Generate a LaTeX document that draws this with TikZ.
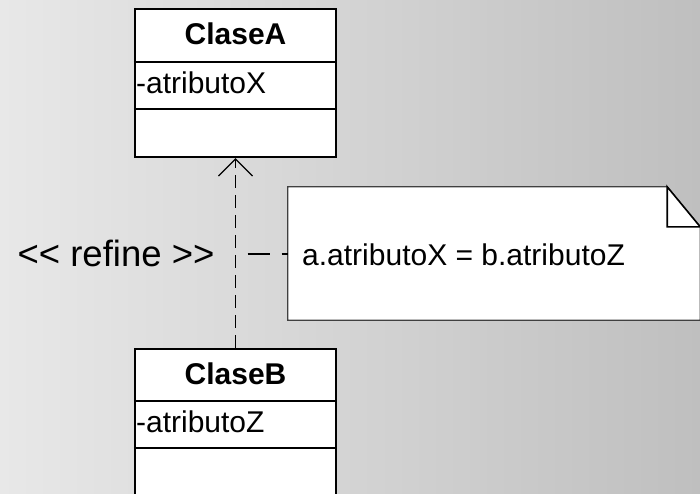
\documentclass[tikz,border=0pt]{standalone}
\usepackage{fontspec}
\newfontfamily\arial{Liberation Sans}
\usetikzlibrary{arrows.meta}
\definecolor{bgl}{HTML}{E8E8E8}
\definecolor{bgr}{HTML}{BFBFBF}
\definecolor{notedraw}{HTML}{404040}
\begin{document}
\begin{tikzpicture}[x=1pt,y=-1pt,
  classbox/.style={draw=black, line width=2.2pt, fill=white, minimum width=201pt, inner sep=0pt},
  sep/.style={line width=2pt},
  title/.style={font=\arial\bfseries\fontsize{30}{32}\selectfont, inner sep=0pt},
  attr/.style={font=\arial\fontsize{30}{32}\selectfont, inner sep=0pt, anchor=base west},
  notetxt/.style={font=\arial\fontsize{30}{32}\selectfont, inner sep=0pt, anchor=base west},
  lbl/.style={font=\arial\fontsize{36.5}{38}\selectfont, inner sep=0pt, anchor=base},
  conn/.style={line width=1.3pt, dash pattern=on 13pt off 7pt},
  hconn/.style={line width=2pt, dash pattern=on 22pt off 12pt, dash phase=22pt},
  notebox/.style={draw=notedraw, line width=1.2pt, fill=white},
  fold/.style={draw=black, line width=1.6pt, fill=white, line join=miter},
]
\useasboundingbox (0,0) rectangle (700,493);
\clip (0,0) rectangle (700,493);
\shade[left color=bgl, right color=bgr] (0,0) rectangle (700,493);

% ClaseA
\node[classbox, minimum height=148pt] (A) at (235.5,83) {};
\draw[sep] ([yshift=-54pt]A.north west) -- ([yshift=-54pt]A.north east);
\draw[sep] ([yshift=-101pt]A.north west) -- ([yshift=-101pt]A.north east);
\node[title] (At) at ([yshift=-26pt]A.north) {ClaseA};
\node[attr] (Aa) at ([xshift=2pt,yshift=-86pt]A.north west) {-atributoX};

% ClaseB
\node[classbox, minimum height=171pt] (B) at (235.5,434.5) {};
\draw[sep] ([yshift=-53pt]B.north west) -- ([yshift=-53pt]B.north east);
\draw[sep] ([yshift=-100pt]B.north west) -- ([yshift=-100pt]B.north east);
\node[title] (Bt) at ([yshift=-26pt]B.north) {ClaseB};
\node[attr] (Ba) at ([xshift=2pt,yshift=-85pt]B.north west) {-atributoZ};

% Note
\node[minimum width=412pt, minimum height=133pt, inner sep=0pt] (N) at (494,253.5) {};
\draw[notebox] (N.north west) -- ([xshift=-33pt]N.north east) -- ([yshift=-40pt]N.north east)
  -- (N.south east) -- (N.south west) -- cycle;
\draw[fold] ([xshift=-33pt]N.north east) -- ([xshift=-33pt,yshift=-40pt]N.north east)
  -- ([yshift=-40pt]N.north east) -- cycle;
\node[notetxt] (Nt) at (302,265) {a.atributoX = b.atributoZ};

% connectors
\draw[conn, -{Straight Barb[length=17pt, width=34pt, line width=1.3pt]}] (B.north) -- (A.south);
\coordinate (J) at (A.south |- N.west);
\draw[hconn] (J) -- (N.west);
\node[lbl] (R) at (116,266) {<< refine >>};
\end{tikzpicture}
\end{document}
